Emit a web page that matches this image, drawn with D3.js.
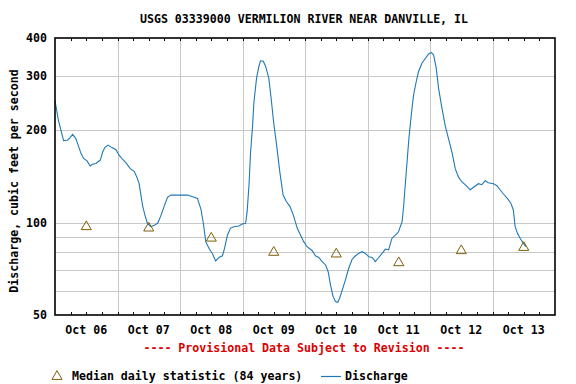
<!DOCTYPE html>
<html><head><meta charset="utf-8">
<script src="https://cdn.jsdelivr.net/npm/d3@7"></script>
<style>
html,body{margin:0;padding:0;background:#fff;}
text{font-family:"DejaVu Sans Mono",monospace;font-weight:bold;font-size:11.6px;}
</style></head>
<body><svg id="c" width="576" height="384"></svg>
<script>
const title = "USGS 03339000 VERMILION RIVER NEAR DANVILLE, IL";
const yLabel = "Discharge, cubic feet per second";
const note = "---- Provisional Data Subject to Revision ----";
const legendMedian = "Median daily statistic (84 years)";
const legendDischarge = "Discharge";
const startDate = Date.UTC(2024, 9, 6);
const dayLabels = ["Oct 06","Oct 07","Oct 08","Oct 09","Oct 10","Oct 11","Oct 12","Oct 13"];
const yTicks = [50, 100, 200, 300, 400];
const yGrid = [60, 70, 80, 90, 100, 200, 300];
// hours since Oct 06 00:00
const hours = [0,1.3,2.3,3.3,4.9,5.7,6.8,8.0,8.9,10.0,11.0,12.3,13.5,14.4,15.7,17.4,18.3,19.2,20.4,21.7,
23.4,24.6,25.9,27.2,28.9,30.4,31.4,32.3,33.0,33.6,34.5,35.5,36.8,38.1,39.4,40.6,41.9,43.2,44.5,47.0,
50.9,53.4,54.7,56.0,57.0,57.9,59.1,60.4,61.7,63.0,64.3,65.1,66.2,67.4,68.7,70.6,71.9,73.2,73.8,74.5,
75.1,75.8,76.4,77.4,78.3,78.9,80.0,80.9,82.1,83.0,84.0,85.1,86.3,87.6,88.9,90.2,91.5,93.0,94.3,95.5,
96.8,98.8,100.0,101.3,102.6,103.9,104.9,105.8,106.8,107.7,108.6,109.3,110.3,111.5,112.8,114.1,115.4,116.6,117.9,119.2,
120.5,121.8,123.0,124.3,125.6,126.9,128.1,129.4,130.7,131.9,133.3,133.9,134.5,135.2,135.8,136.4,137.1,137.7,138.7,139.6,
140.9,142.2,143.4,144.5,145.4,146.4,147.3,148.6,149.8,151.1,152.4,153.7,154.9,156.2,157.9,159.4,161.0,162.6,163.9,165.2,
166.4,168.4,169.7,170.9,172.2,173.7,175.0,176.0,176.7,177.6,178.6,179.9,180.8];
const discharge = [250,216,200,185,186,189,194,188,179,168,162,159,153,155,156,160,170,176,179,176,
173,166,161,157,150,147,141,134,123,114,106,99.5,97,98,99.5,105,113,121,123,123,
123,121,120,111,99,86.7,82.5,79.4,75,77,78,82.5,91,96,97,97.5,99,99.5,109,133,
170,203,248,296,323,337,336,323,296,254,211,179,147,123,117,113,106,96,91,86.7,
83.5,81,78,77,74.6,72.8,69.2,62.6,57.4,55.3,55,56.7,60.3,65,71,76,78,79.4,80.4,79.4,
77.4,77,74.6,77,79.4,82,81.5,89,91,93.4,100.7,114,133,158,184,208,236,261,288,311,
331,343,354,359,352,319,274,236,208,188,170,150,141,136,132,128,131,134,133,137,
135,134,132,128,124,120,116,110,97,92.3,89,85.6,83.5];
const medianHours = [12,36,60,84,108,132,156,180];
const medianValues = [97,96,89,80,79,74,81,83];

const X0 = 55, X1 = 555, Y0 = 38, Y1 = 315;
const svg = d3.select("#c");
const toDate = h => new Date(startDate + h * 3600e3);
const x = d3.scaleUtc().domain([toDate(0), toDate(192)]).range([X0, X1]);
const y = d3.scaleLog().domain([50, 400]).range([Y1, Y0]);

// grid
const g = svg.append("g").attr("shape-rendering", "crispEdges");
g.selectAll(".hg").data(yGrid).join("line")
  .attr("x1", X0).attr("x2", X1)
  .attr("y1", d => Math.round(y(d)) + 0.5).attr("y2", d => Math.round(y(d)) + 0.5)
  .attr("stroke", "#c8c8c8").attr("stroke-width", 1);
const days = d3.range(1, 8).map(i => toDate(i * 24));
g.selectAll(".vg").data(days).join("line")
  .attr("x1", d => Math.round(x(d)) + 0.5).attr("x2", d => Math.round(x(d)) + 0.5)
  .attr("y1", Y0).attr("y2", Y1)
  .attr("stroke", "#c8c8c8").attr("stroke-width", 1);

// 6-hour ticks
const sixH = d3.range(1, 32).map(i => toDate(i * 6));
g.selectAll(".tt").data(sixH).join("line")
  .attr("x1", d => Math.round(x(d)) + 0.5).attr("x2", d => Math.round(x(d)) + 0.5)
  .attr("y1", Y0).attr("y2", Y0 + 3).attr("stroke", "#000");
g.selectAll(".bt").data(sixH).join("line")
  .attr("x1", d => Math.round(x(d)) + 0.5).attr("x2", d => Math.round(x(d)) + 0.5)
  .attr("y1", Y1 - 3).attr("y2", Y1).attr("stroke", "#000");

// discharge line
const pts = hours.map((h, i) => [toDate(h), discharge[i]]);
svg.append("path").datum(pts)
  .attr("fill", "none").attr("stroke", "#1f78b4").attr("stroke-width", 1.1)
  .attr("d", d3.line().x(d => x(d[0])).y(d => y(d[1])));

// median triangles
const tri = d3.symbol().type(d3.symbolTriangle).size(44);
svg.selectAll(".med").data(medianHours.map((h, i) => [toDate(h), medianValues[i]])).join("path")
  .attr("transform", d => `translate(${x(d[0])},${y(d[1])})`)
  .attr("d", tri).attr("fill", "none").attr("stroke", "#7d5f0a").attr("stroke-width", 1);

// frame
svg.append("rect").attr("x", X0).attr("y", Y0).attr("width", X1 - X0).attr("height", Y1 - Y0)
  .attr("fill", "none").attr("stroke", "#000").attr("stroke-width", 1.6);

// y labels
svg.selectAll(".yl").data(yTicks).join("text")
  .attr("x", 47).attr("y", d => y(d) + 4).attr("text-anchor", "end").text(d => d);
// x labels
svg.selectAll(".xl").data(dayLabels).join("text")
  .attr("x", (d, i) => x(toDate(i * 24 + 12))).attr("y", 334)
  .attr("text-anchor", "middle").text(d => d);

svg.append("text").attr("x", 304).attr("y", 23).attr("text-anchor", "middle").text(title);
svg.append("text").attr("transform", "translate(18,181) rotate(-90)")
  .attr("text-anchor", "middle").text(yLabel);
svg.append("text").attr("x", 304).attr("y", 352).attr("text-anchor", "middle")
  .attr("fill", "#dd0000").text(note);

// legend
svg.append("path").attr("transform", "translate(57,376.5)").attr("d", tri)
  .attr("fill", "none").attr("stroke", "#7d5f0a");
svg.append("text").attr("x", 72).attr("y", 380).text(legendMedian);
svg.append("line").attr("x1", 321).attr("x2", 341).attr("y1", 376.5).attr("y2", 376.5)
  .attr("stroke", "#1f78b4").attr("stroke-width", 1.2);
svg.append("text").attr("x", 345).attr("y", 380).text(legendDischarge);
</script></body></html>
